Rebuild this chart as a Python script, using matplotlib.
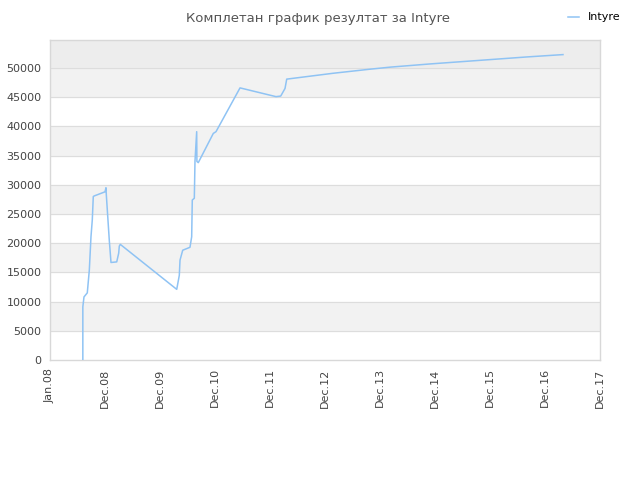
import matplotlib
matplotlib.use('Agg')
import matplotlib.pyplot as plt
import numpy as np

# x in tick units (0 = Jan.08, 1 = Dec.08, ...), y = total score
x_vals = [0.597, 0.597, 0.618, 0.678, 0.715, 0.745, 0.769, 0.787, 0.805, 1.000, 1.018,
          1.024, 1.078, 1.109, 1.213, 1.249, 1.260, 1.278, 2.304, 2.351, 2.364,
          2.413, 2.545, 2.576, 2.587, 2.624, 2.636, 2.667, 2.671, 2.696, 2.969,
          3.018, 3.455, 4.109, 4.195, 4.273, 4.304, 5.145, 5.818, 6.182, 6.909,
          8.673, 9.327]
y_vals = [0, 9100, 10800, 11500, 15400, 21100, 24000, 28000, 28100, 28800, 29500,
          28300, 20500, 16700, 16800, 18300, 19500, 19800, 12100, 14500, 17100,
          18800, 19300, 21100, 27400, 27700, 34000, 39100, 34000, 33800, 38800,
          39100, 46600, 45100, 45200, 46500, 48100, 49100, 49800, 50150, 50700,
          51900, 52300]

tick_labels = ["Jan.08", "Dec.08", "Dec.09", "Dec.10", "Dec.11", "Dec.12",
               "Dec.13", "Dec.14", "Dec.15", "Dec.16", "Dec.17"]
y_ticks = list(range(0, 50001, 5000))

fig = plt.figure(figsize=(6.4, 4.8), dpi=100)
ax = fig.add_axes([50/640, 120/480, 550/640, 320/480])

ymax = 54800
ax.set_xlim(0, 10)
ax.set_ylim(0, ymax)
ax.set_facecolor('white')

# alternating bands
for i, lo in enumerate(range(0, 50000, 5000)):
    if i % 2 == 1:
        ax.axhspan(lo, lo + 5000, color='#f2f2f2', zorder=0)
ax.axhspan(50000, ymax, color='#ededed', zorder=0)
for yt in y_ticks[1:]:
    ax.axhline(yt, color='#dddddd', lw=0.8, zorder=1)

ax.plot(x_vals, y_vals, color='#8fc3f4', lw=1.1, label='Intyre', zorder=3)

ax.set_xticks(range(len(tick_labels)))
ax.set_xticklabels(tick_labels, rotation=90, fontsize=8, color='#444444')
ax.set_yticks(y_ticks)
ax.set_yticklabels([str(v) for v in y_ticks], fontsize=8, color='#444444')
ax.tick_params(length=0, pad=6)

for s in ax.spines.values():
    s.set_color('#d8d8d8')
    s.set_linewidth(1)

fig.text(0.497, 0.975, "Комплетан график резултат за Intyre", ha='center', va='top',
         fontsize=9.5, color='#555555')
fig.legend(loc='upper right', bbox_to_anchor=(0.985, 0.995), frameon=False,
           fontsize=8, handlelength=1.0, handletextpad=0.8)

fig.savefig('out.png', dpi=100)
